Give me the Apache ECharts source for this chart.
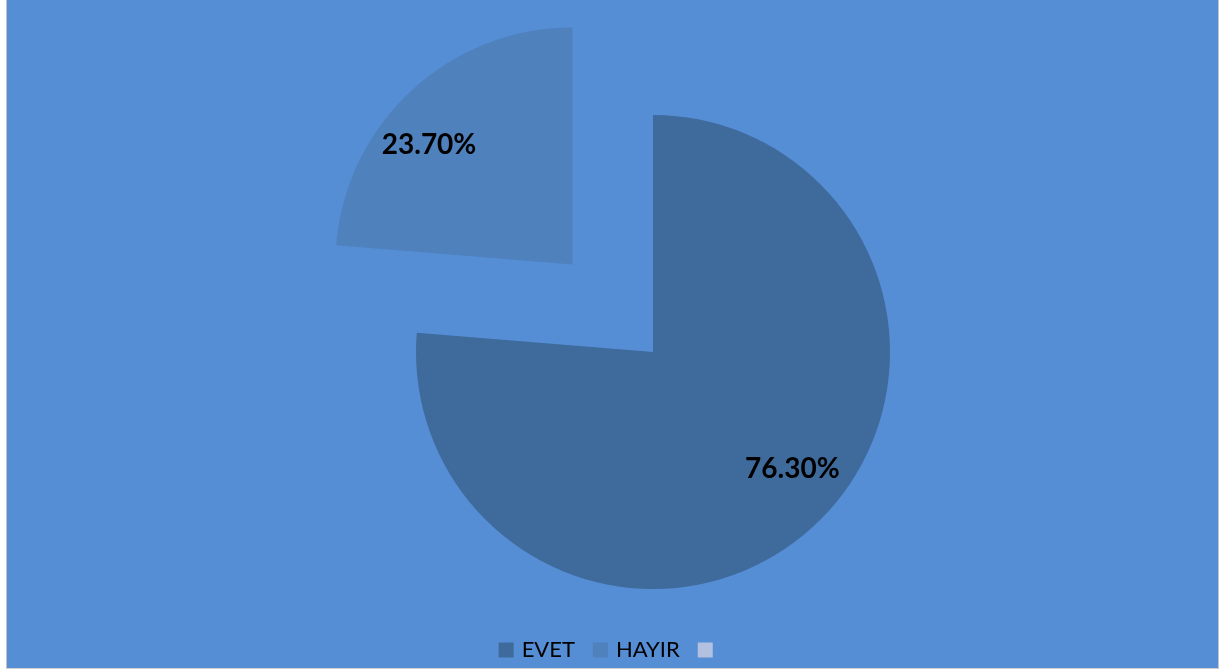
<!DOCTYPE html>
<html>
<head>
<meta charset="utf-8">
<script src="https://cdn.jsdelivr.net/npm/echarts@6/dist/echarts.min.js"></script>
<style>
html,body{margin:0;padding:0;background:#ffffff;width:1220px;height:672px;overflow:hidden;}
#frame{position:absolute;left:6px;top:0;width:1211px;height:668px;border-left:1px solid #c4c4c4;border-right:1px solid #c4c4c4;border-bottom:1px solid #d0d0d0;background:#558ed5;}
#chart{width:1211px;height:668px;}
</style>
</head>
<body>
<div id="frame"><div id="chart"></div></div>
<script>
const categories = ['EVET', 'HAYIR', ' '];
const values = [76.3, 23.7, 0];
const colors = ['#3f6a9c', '#4f81bd', '#b3c1e0'];

const chart = echarts.init(document.getElementById('chart'), null, {renderer: 'canvas'});
const data = categories.map((n, i) => ({
  name: n,
  value: values[i],
  itemStyle: {color: colors[i]},
  selected: i === 1,
  label: {show: values[i] > 0}
}));
const labelShift = {EVET: [57, 28], HAYIR: [-61, -30]};
chart.setOption({
  backgroundColor: '#558ed5',
  animation: false,
  legend: {
    bottom: 2,
    left: 'center',
    icon: 'rect',
    itemWidth: 15,
    itemHeight: 15,
    itemGap: 18,
    selectedMode: false,
    data: categories,
    textStyle: {fontFamily: 'Lato', fontSize: 22, color: '#000', padding: [0, 0, 0, 3]}
  },
  series: [{
    type: 'pie',
    center: [646, 352],
    radius: 237,
    startAngle: 90,
    clockwise: true,
    selectedMode: 'single',
    selectedOffset: 119,
    avoidLabelOverlap: false,
    label: {
      position: 'inside',
      formatter: p => p.value.toFixed(2) + '%',
      fontFamily: 'Lato',
      fontWeight: 'bold',
      fontSize: 28,
      color: '#000'
    },
    labelLine: {show: false},
    labelLayout: function (params) {
      const name = categories[params.dataIndex];
      const s = labelShift[name];
      if (!s) return {};
      return {dx: s[0], dy: s[1]};
    },
    emphasis: {disabled: true},
    data: data
  }]
});
</script>
</body>
</html>
